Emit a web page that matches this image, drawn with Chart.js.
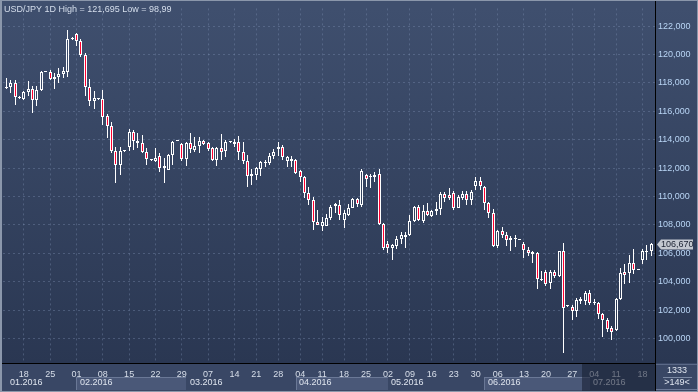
<!DOCTYPE html>
<html><head><meta charset="utf-8">
<script src="https://cdn.jsdelivr.net/npm/chart.js@4.4.0/dist/chart.umd.min.js"></script>
<style>html,body{margin:0;padding:0;background:#2e3b56;overflow:hidden}#wrap{width:698px;height:392px;position:relative}canvas{display:block}</style>
</head><body><div id="wrap"><canvas id="c" width="698" height="392"></canvas></div>
<script>
const TITLE = 'USD/JPY 1D High = 121,695 Low = 98,99';
const OPEN = [117.75,117.66,117.68,118.02,116.96,116.87,117.33,117.54,116.82,117.50,
118.80,118.79,118.26,118.44,118.65,118.80,121.08,121.42,120.98,120.00,
117.68,116.70,116.85,116.90,115.64,114.97,113.24,112.25,113.18,113.52,
114.56,113.93,113.80,113.17,112.58,112.52,112.83,112.02,111.90,112.90,
113.92,113.70,112.66,113.80,113.29,113.59,113.91,113.80,113.40,112.55,
113.40,113.23,113.84,113.72,113.81,113.16,112.53,111.42,111.53,111.95,
112.35,112.37,112.88,113.35,113.47,112.47,112.47,112.60,111.77,111.37,
110.28,109.74,108.23,107.95,107.95,108.47,109.35,109.42,108.38,108.73,
109.23,109.84,109.42,111.55,111.39,111.39,111.62,108.08,106.64,106.41,
106.52,106.99,107.29,107.29,108.31,109.30,108.31,109.00,108.61,108.96,
109.14,110.16,110.09,110.25,109.17,109.93,110.20,109.75,110.72,111.13,
110.67,109.56,108.87,106.50,107.55,107.31,106.97,107.01,106.95,106.69,
106.23,105.97,106.00,104.12,104.70,103.91,104.68,104.38,106.14,102.28,
102.20,101.97,102.67,102.67,103.22,102.53,102.53,101.74,101.32,100.75,
100.58,102.78,104.68,104.61,105.33,104.82,105.54,106.07,106.14];
const HIGH = [117.90,118.37,118.20,118.20,117.10,117.45,118.12,117.80,117.80,118.83,
118.85,118.90,118.72,119.06,119.10,121.695,121.20,121.54,121.10,120.10,
118.26,117.45,116.95,117.50,115.83,115.25,113.52,113.52,113.25,114.79,
114.72,114.51,114.33,113.40,112.68,113.40,113.06,112.70,113.00,113.93,
114.00,113.80,113.87,114.49,114.21,114.17,113.95,113.87,113.52,113.52,
114.44,114.00,113.90,114.05,114.23,113.81,112.95,111.95,112.07,112.53,
112.60,113.05,113.35,113.81,113.63,112.88,112.88,112.65,111.84,111.42,
110.67,109.98,109.05,108.58,108.75,109.44,109.53,109.77,109.07,109.47,
109.93,109.93,111.92,111.62,111.62,111.74,111.92,108.15,106.87,106.64,
107.22,107.50,107.50,108.68,109.37,109.42,109.42,109.53,109.07,109.65,
110.30,110.32,110.62,110.39,110.09,110.39,110.39,110.49,111.41,111.37,
110.72,109.63,109.10,107.66,107.85,107.48,107.20,107.31,107.00,106.78,
106.46,106.16,106.09,104.77,104.84,104.84,104.84,106.19,106.76,102.34,
102.37,102.83,102.94,103.34,103.41,102.76,102.60,101.79,101.44,100.86,
102.83,104.98,105.26,105.91,106.30,104.88,106.30,106.60,106.76];
const LOW = [117.55,117.56,117.28,116.47,116.87,116.82,117.05,115.90,116.40,117.45,
118.75,118.19,117.60,118.02,118.37,118.44,121.00,120.60,119.83,117.05,
116.40,116.17,116.80,115.07,114.14,113.05,110.93,111.55,113.12,113.24,
113.29,113.40,113.10,112.25,112.52,112.40,111.72,110.98,111.86,112.25,
113.88,112.48,112.13,113.10,113.17,113.10,113.65,113.24,112.48,112.18,
112.60,112.77,113.80,113.47,112.60,112.30,110.67,110.79,111.20,111.42,
112.07,112.23,112.65,112.88,112.60,112.07,112.07,111.60,111.02,109.90,
109.40,107.65,107.98,107.58,107.90,108.35,108.84,108.38,107.80,108.60,
109.19,109.30,109.30,110.69,110.62,111.04,108.03,106.22,106.06,105.53,
106.29,106.64,106.41,107.22,108.22,108.31,108.15,108.61,108.54,108.68,
108.68,109.63,109.75,109.05,109.17,109.79,109.40,109.40,110.49,110.49,
109.05,108.47,106.46,106.39,107.08,106.50,106.16,106.43,106.93,105.70,
105.81,105.35,103.50,104.07,103.68,103.50,104.29,104.33,98.99,102.26,
101.32,101.50,102.44,102.37,102.37,102.37,101.37,100.12,100.44,99.89,
100.51,102.71,103.87,103.92,104.56,104.80,105.26,105.54,105.84];
const CLOSE = [117.68,117.70,118.02,116.98,117.00,117.33,117.54,116.82,117.50,118.79,
118.82,118.26,118.44,118.65,118.83,121.10,121.12,120.98,120.00,117.68,
116.70,116.94,116.89,115.60,114.97,113.20,112.25,113.24,113.22,114.56,
113.93,113.80,113.17,112.64,112.62,112.75,112.02,112.13,112.90,113.87,
113.95,112.66,113.80,113.33,113.59,113.93,113.70,113.33,112.55,113.40,
113.17,113.86,113.88,113.86,113.16,112.53,111.42,111.60,112.00,112.42,
112.42,112.88,113.12,113.47,112.77,112.77,112.65,111.67,111.37,110.28,
109.74,108.23,108.00,108.23,108.47,109.28,109.47,108.73,108.84,109.23,
109.84,109.47,111.80,111.23,111.46,111.50,108.08,106.36,106.36,106.59,
106.99,107.29,107.15,108.31,109.30,108.38,109.00,108.68,109.00,109.14,
110.18,109.93,109.93,109.17,109.98,110.16,109.75,110.32,111.13,110.72,
109.56,108.87,106.50,107.55,107.31,106.97,107.08,107.08,106.99,106.23,
106.04,106.09,104.19,104.19,103.84,104.70,104.38,106.14,102.13,102.32,
101.97,102.71,102.78,103.22,102.48,102.60,101.74,101.32,100.70,100.47,
102.78,104.61,104.45,105.33,104.84,104.86,106.19,106.19,106.67];
const DAY_TICKS = [5,11,17,23,29,35,41,47,53,58,63,68,73,78,83,88,93,98,103,108,113,119,124,130,135,140,146];
const DAY_LABELS = ['18','25','01','08','15','22','29','07','14','21','28','04','11','18','25','02','09','16','23','30','06','13','20','27','04','11','18'];
const MONTH_LABELS = ['01.2016','02.2016','03.2016','04.2016','05.2016','06.2016','07.2016'];
const MONTH_START = [-20,17,42,67,88,110,134];
const Y_TICKS = [100,102,104,106,108,110,112,114,116,118,120,122];
const CORNER_TOP = '1333';
const CORNER_BOTTOM = '>149<';

const FONT = 'Liberation Sans';
const RED = '#ff0030';
const GRID = 'rgba(125,145,180,0.38)';
const SHADE_FROM = 132.3;

let gradCache = null;
function plotGradient(chart){
  const a = chart.chartArea;
  if (!a) return '#36455f';
  if (gradCache && gradCache.top === a.top && gradCache.bottom === a.bottom) return gradCache.g;
  const g = chart.ctx.createLinearGradient(0, a.top, 0, a.bottom);
  g.addColorStop(0, '#3f4f6e');
  g.addColorStop(1, '#2a3752');
  gradCache = {top:a.top, bottom:a.bottom, g};
  return g;
}

const idx = OPEN.map((_, i) => i);

const snap = {
  id:'snap',
  afterDatasetsUpdate(chart){
    chart.data.datasets.forEach((ds, d) => {
      chart.getDatasetMeta(d).data.forEach(el => {
        el.x = Math.floor(el.x) + 0.5;
        el.y = Math.round(el.y);
        el.base = Math.round(el.base);
      });
    });
  }
};

const deco = {
  id:'deco',
  beforeDraw(chart){
    const {ctx, chartArea:a, width, height} = chart;
    const xs = chart.scales.x;
    ctx.save();
    ctx.fillStyle = plotGradient(chart);
    ctx.fillRect(0, 0, width, a.bottom);
    ctx.fillStyle = '#394765';
    ctx.fillRect(0, a.bottom, width, height - a.bottom);
    for (let m = 0; m < MONTH_START.length; m++) {
      if (m % 2 !== 1) continue;
      const x0 = Math.round(xs.getPixelForValue(MONTH_START[m]));
      const x1 = m + 1 < MONTH_START.length ? Math.round(xs.getPixelForValue(MONTH_START[m+1])) : a.right;
      ctx.fillStyle = '#4a5878';
      ctx.fillRect(x0, 377, x1 - x0, 13);
      ctx.fillStyle = '#6a7896';
      ctx.fillRect(x0, 377, x1 - x0, 1);
      ctx.fillRect(x0, 377, 1, 13);
    }
    ctx.restore();
  },
  afterDraw(chart){
    const {ctx, chartArea:a, width, height} = chart;
    const xs = chart.scales.x, ys = chart.scales.y;
    ctx.save();
    ctx.font = '9px "' + FONT + '"';
    ctx.textBaseline = 'middle';
    ctx.textAlign = 'left';
    ctx.fillStyle = '#dfe5ef';
    for (let m = 0; m < MONTH_LABELS.length; m++) {
      let x = xs.getPixelForValue(MONTH_START[m]) + 3.5;
      if (x < 10) x = 10;
      ctx.fillText(MONTH_LABELS[m], Math.round(x), 383);
    }
    const sx = Math.round(xs.getPixelForValue(SHADE_FROM));
    ctx.fillStyle = 'rgba(22,30,48,0.55)';
    ctx.fillRect(sx, a.bottom + 1, a.right - sx, height - a.bottom - 2);
    ctx.fillStyle = '#000';
    ctx.fillRect(0, a.bottom, a.right, 1);
    ctx.fillRect(a.right, 0, 1, height);
    ctx.fillStyle = '#5b6987';
    ctx.fillRect(a.right + 1, a.bottom + 1, width - a.right - 1, 1);
    ctx.fillStyle = '#dfe5ef';
    ctx.textAlign = 'center';
    const cx = (a.right + width) / 2 + 0.5;
    ctx.fillText(CORNER_TOP, cx, 371);
    ctx.fillText(CORNER_BOTTOM, cx, 383);
    ctx.fillStyle = '#7c8aa4';
    ctx.fillRect(663, 377, 29, 1);
    ctx.fillStyle = '#6b7896';
    ctx.fillRect(a.right + 1, 389, width - a.right - 1, 1);
    ctx.textAlign = 'left';
    ctx.textBaseline = 'alphabetic';
    ctx.fillStyle = '#d5deec';
    ctx.fillText(TITLE, 4, 12);
    const last = CLOSE[CLOSE.length - 1];
    const py = Math.round(ys.getPixelForValue(last)) + 0.5;
    ctx.fillStyle = '#c3c8d0';
    ctx.beginPath();
    ctx.moveTo(657, py);
    ctx.lineTo(661, py - 5);
    ctx.lineTo(693, py - 5);
    ctx.lineTo(693, py + 5);
    ctx.lineTo(661, py + 5);
    ctx.closePath();
    ctx.fill();
    ctx.fillStyle = '#1b2232';
    ctx.textBaseline = 'middle';
    ctx.fillText(last.toFixed(3).replace('.', ','), 661, py + 0.5);
    ctx.strokeStyle = '#8b97ab';
    ctx.lineWidth = 1;
    ctx.strokeRect(0.5, 0.5, width - 1, height - 1);
    ctx.fillStyle = '#8b97ab';
    ctx.fillRect(1, 1, 1, height - 2);
    ctx.restore();
  }
};

new Chart(document.getElementById('c'), {
  type: 'bar',
  data: {
    datasets: [
      {
        label: 'body',
        data: idx.map(i => ({x: i, y: [OPEN[i], CLOSE[i]]})),
        backgroundColor: c => {
          const i = c.dataIndex;
          if (i === undefined) return RED;
          return CLOSE[i] < OPEN[i] ? RED : plotGradient(c.chart);
        },
        borderColor: '#ffffff',
        borderWidth: 1,
        borderSkipped: false,
        barThickness: 3,
        minBarLength: 1,
        inflateAmount: 0,
        grouped: false,
        order: 0
      },
      {
        label: 'range',
        data: idx.map(i => ({x: i, y: [LOW[i], HIGH[i]]})),
        backgroundColor: '#ffffff',
        borderWidth: 0,
        barThickness: 1,
        inflateAmount: 0,
        grouped: false,
        order: 1
      }
    ]
  },
  options: {
    responsive: false,
    animation: false,
    devicePixelRatio: 1,
    events: [],
    layout: { padding: { left: 3, top: 3, right: 0, bottom: 0 } },
    plugins: { legend: { display: false }, tooltip: { enabled: false }, title: { display: false } },
    scales: {
      x: {
        type: 'linear', min: 0.25, max: 148.87, bounds: 'data', offset: false,
        afterBuildTicks: s => { s.ticks = DAY_TICKS.map(v => ({value: v})); },
        afterFit: s => { s.height = 29; },
        grid: { offset: false, color: GRID, lineWidth: 1, drawTicks: false, borderDash: [2, 3] },
        border: { display: false, dash: [2, 3] },
        ticks: { autoSkip: false, maxRotation: 0, minRotation: 0, color: '#d8dfea',
          font: { family: FONT, size: 9 }, padding: 6,
          callback: (v, i) => DAY_LABELS[i] }
      },
      y: {
        position: 'right', min: 98.283, max: 123.248, bounds: 'data',
        afterBuildTicks: s => { s.ticks = Y_TICKS.map(v => ({value: v})); },
        afterFit: s => { s.width = 43; },
        grid: { color: GRID, lineWidth: 1, drawTicks: false, borderDash: [2, 3] },
        border: { display: false, dash: [2, 3] },
        ticks: { color: '#b9d5f5', font: { family: FONT, size: 9 }, padding: 3,
          callback: v => v.toFixed(3).replace('.', ',') }
      }
    }
  },
  plugins: [snap, deco]
});
</script>
</body></html>
